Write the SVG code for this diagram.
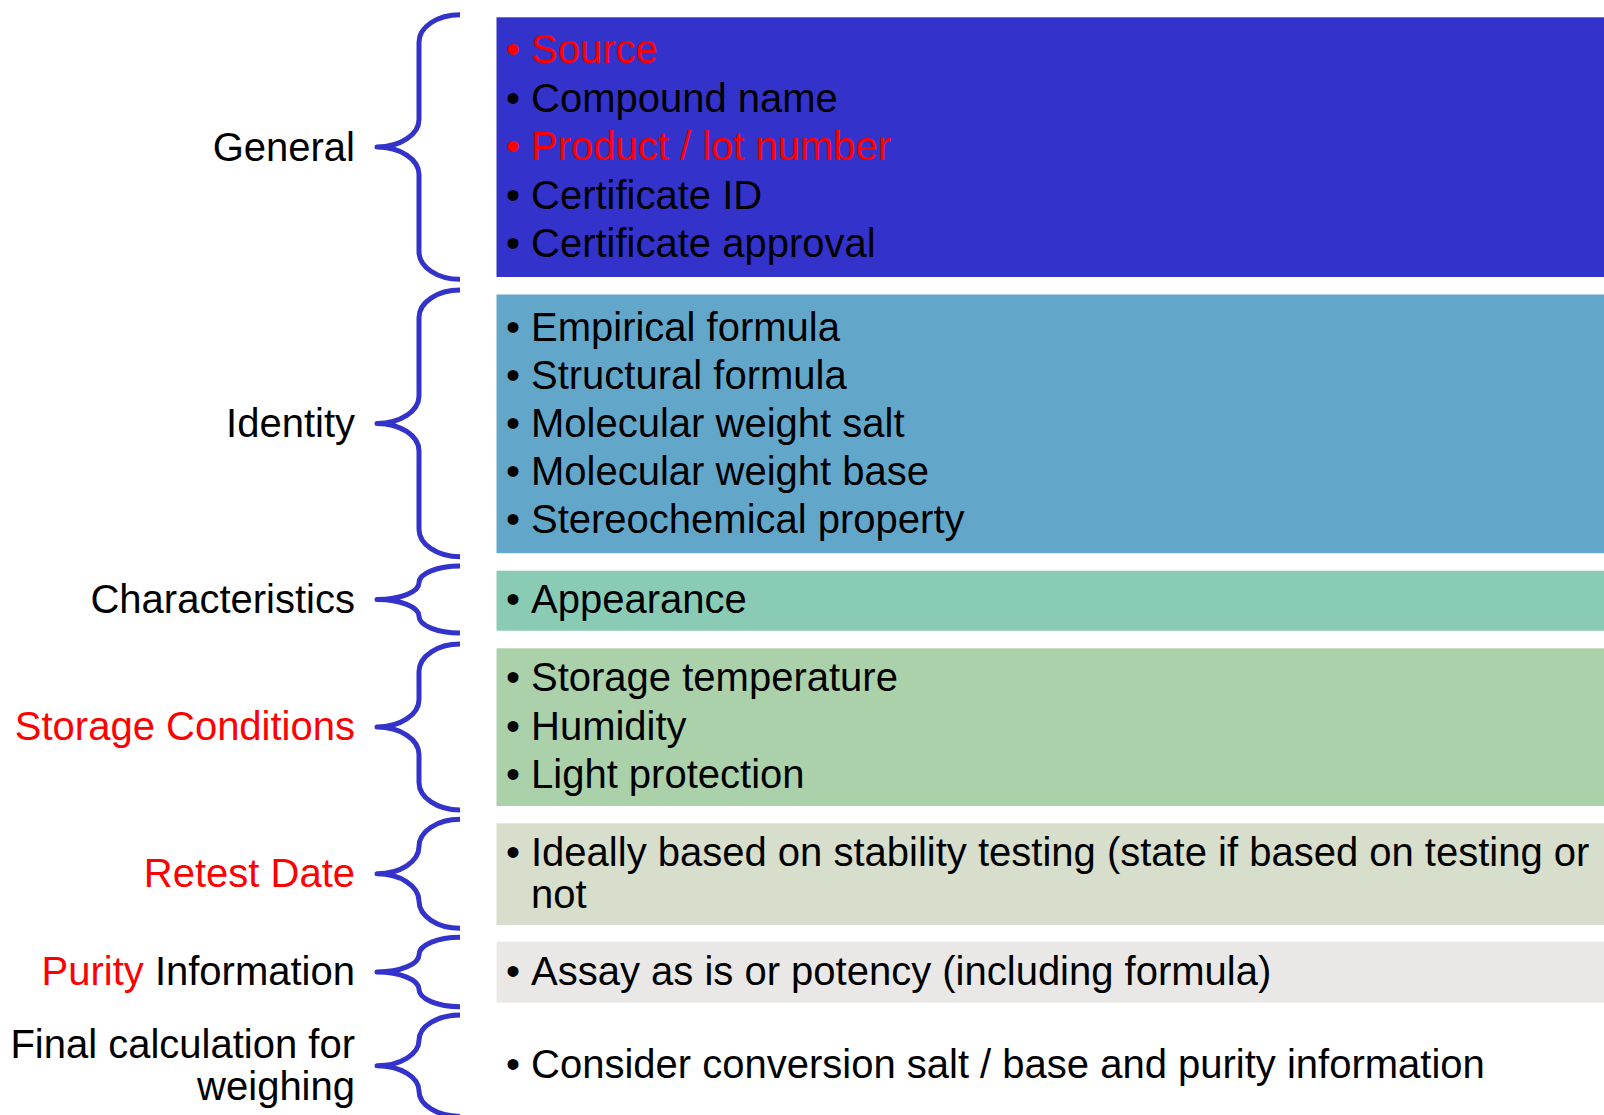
<svg xmlns="http://www.w3.org/2000/svg" width="1604" height="1115" viewBox="0 0 1604 1115">
  <style>
    text { font-family: "Liberation Sans", Arial, sans-serif; font-size: 40px; fill: #000000; }
    .label { text-anchor: end; }
    .red { fill: #FF0000; }
    .brace { fill: none; stroke: #3333CC; stroke-width: 5; stroke-linejoin: round; }
  </style>
  <rect width="1604" height="1115" fill="#FFFFFF"/>

  <!-- Braces linking each category label to its box -->
  <g id="connectors">
    <path class="brace" d="M460,14.7 A41,27.5 0 0 0 419,42.2 L419,119.5 A42,27.5 0 0 1 377,147 A42,27.5 0 0 1 419,174.5 L419,251.8 A41,27.5 0 0 0 460,279.3"/>
    <path class="brace" d="M460,290 A41,27.5 0 0 0 419,317.5 L419,395.9 A42,27.5 0 0 1 377,423.4 A42,27.5 0 0 1 419,450.9 L419,529.2 A41,27.5 0 0 0 460,556.7"/>
    <path class="brace" d="M460,566 A41,16.75 0 0 0 419,582.75 A42,16.75 0 0 1 377,599.5 A42,16.75 0 0 1 419,616.25 A41,16.75 0 0 0 460,633"/>
    <path class="brace" d="M460,644 A41,27.5 0 0 0 419,671.5 L419,699.5 A42,27.5 0 0 1 377,727 A42,27.5 0 0 1 419,754.5 L419,782.5 A41,27.5 0 0 0 460,810"/>
    <path class="brace" d="M460,819.3 A41,27.25 0 0 0 419,846.55 A42,27.25 0 0 1 377,873.8 A42,27.25 0 0 1 419,901.05 A41,27.25 0 0 0 460,928.3"/>
    <path class="brace" d="M460,937.3 A41,17.35 0 0 0 419,954.65 A42,17.35 0 0 1 377,972 A42,17.35 0 0 1 419,989.35 A41,17.35 0 0 0 460,1006.7"/>
    <path class="brace" d="M460,1015 A41,25.35 0 0 0 419,1040.35 A42,25.35 0 0 1 377,1065.7 A42,25.35 0 0 1 419,1091.05 A41,25.35 0 0 0 460,1116.4"/>
  </g>

  <g id="general">
    <text class="label" x="355" y="160.5">General</text>
    <rect x="496.5" y="17.3" width="1108" height="259.7" fill="#3333CC"/>
    <text class="red" x="506" y="63">•</text><text class="red" x="531" y="63">Source</text>
    <text x="506" y="111.5">•</text><text x="531" y="111.5">Compound name</text>
    <text class="red" x="506" y="160">•</text><text class="red" x="531" y="160">Product / lot number</text>
    <text x="506" y="208.5">•</text><text x="531" y="208.5">Certificate ID</text>
    <text x="506" y="256.5">•</text><text x="531" y="256.5">Certificate approval</text>
  </g>

  <g id="identity">
    <text class="label" x="355" y="436.5">Identity</text>
    <rect x="496.5" y="294.5" width="1108" height="258.7" fill="#62A7CA"/>
    <text x="506" y="340.8">•</text><text x="531" y="340.8">Empirical formula</text>
    <text x="506" y="388.8">•</text><text x="531" y="388.8">Structural formula</text>
    <text x="506" y="436.8">•</text><text x="531" y="436.8">Molecular weight salt</text>
    <text x="506" y="484.8">•</text><text x="531" y="484.8">Molecular weight base</text>
    <text x="506" y="532.8">•</text><text x="531" y="532.8">Stereochemical property</text>
  </g>

  <g id="characteristics">
    <text class="label" x="355" y="613">Characteristics</text>
    <rect x="496.5" y="570.7" width="1108" height="60" fill="#89CBB5"/>
    <text x="506" y="613.2">•</text><text x="531" y="613.2">Appearance</text>
  </g>

  <g id="storage-conditions">
    <text class="label red" x="355" y="739.8">Storage Conditions</text>
    <rect x="496.5" y="648.3" width="1108" height="157.7" fill="#ABD1AB"/>
    <text x="506" y="691">•</text><text x="531" y="691">Storage temperature</text>
    <text x="506" y="739.5">•</text><text x="531" y="739.5">Humidity</text>
    <text x="506" y="788">•</text><text x="531" y="788">Light protection</text>
  </g>

  <g id="retest-date">
    <text class="label red" x="355" y="886.5">Retest Date</text>
    <rect x="496.5" y="823.3" width="1108" height="101.7" fill="#D7DECB"/>
    <text x="506" y="866.3">•</text><text x="531" y="866.3">Ideally based on stability testing (state if based on testing or</text>
    <text x="531" y="907.5">not</text>
  </g>

  <g id="purity-information">
    <text class="label" x="355" y="984.8"><tspan class="red">Purity</tspan> Information</text>
    <rect x="496.5" y="941.7" width="1108" height="61" fill="#E9E8E6"/>
    <text x="506" y="984.8">•</text><text x="531" y="984.8">Assay as is or potency (including formula)</text>
  </g>

  <g id="final-calculation">
    <text class="label" x="355" y="1058.2">Final calculation for</text>
    <text class="label" x="355" y="1099.8">weighing</text>
    <text x="506" y="1078.2">•</text><text x="531" y="1078.2">Consider conversion salt / base and purity information</text>
  </g>
</svg>
